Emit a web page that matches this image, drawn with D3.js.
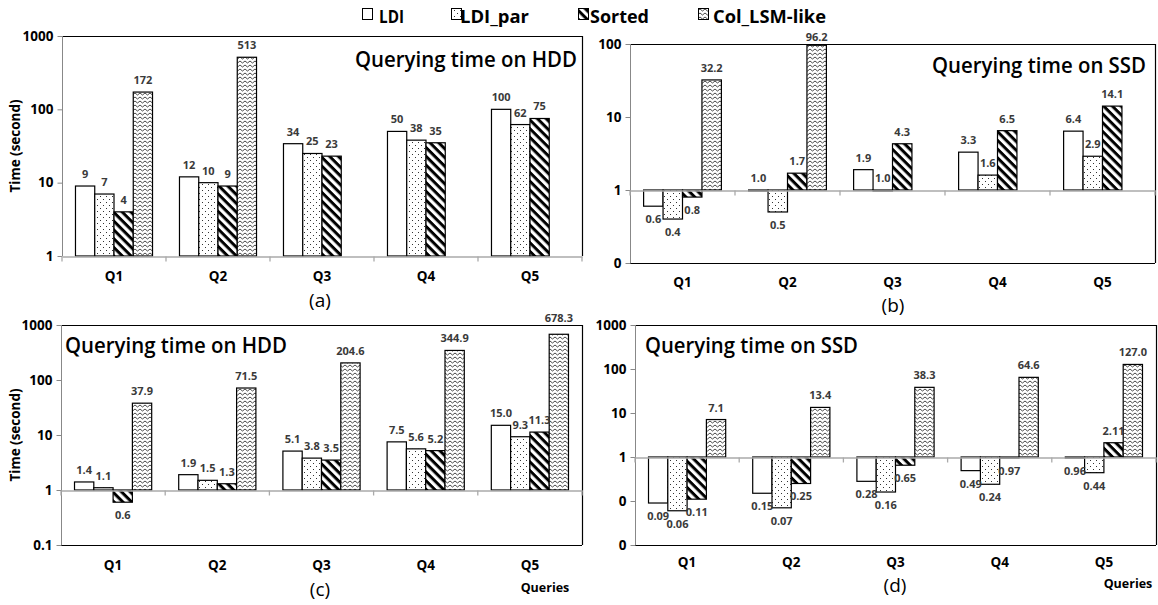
<!DOCTYPE html>
<html>
<head>
<meta charset="utf-8">
<script src="https://cdn.jsdelivr.net/npm/d3@7"></script>
<style>
  html, body { margin: 0; padding: 0; background: #fff; }
  svg { display: block; }
  text { font-family: "Open Sans", "DejaVu Sans", sans-serif; }
</style>
</head>
<body>
<svg id="chart" width="1158" height="605"></svg>
<script>
// ---------------- DATA ----------------
const categories = ["Q1", "Q2", "Q3", "Q4", "Q5"];
const seriesNames = ["LDI", "LDI_par", "Sorted", "Col_LSM-like"];

// (a) Querying time on HDD
const a_LDI    = [9, 12, 34, 50, 100];
const a_LDIpar = [7, 10, 25, 38, 62];
const a_Sorted = [4, 9, 23, 35, 75];
const a_Col    = [172, 513, null, null, null];

// (b) Querying time on SSD
const b_LDI    = [0.6, 1.0, 1.9, 3.3, 6.4];
const b_LDIpar = [0.4, 0.5, 1.0, 1.6, 2.9];
const b_Sorted = [0.8, 1.7, 4.3, 6.5, 14.1];
const b_Col    = [32.2, 96.2, null, null, null];

// (c) Querying time on HDD
const c_LDI    = [1.4, 1.9, 5.1, 7.5, 15.0];
const c_LDIpar = [1.1, 1.5, 3.8, 5.6, 9.3];
const c_Sorted = [0.6, 1.3, 3.5, 5.2, 11.3];
const c_Col    = [37.9, 71.5, 204.6, 344.9, 678.3];

// (d) Querying time on SSD
const d_LDI    = [0.09, 0.15, 0.28, 0.49, 0.96];
const d_LDIpar = [0.06, 0.07, 0.16, 0.24, 0.44];
const d_Sorted = [0.11, 0.25, 0.65, 0.97, 2.11];
const d_Col    = [7.1, 13.4, 38.3, 64.6, 127.0];

// axis ticks and their labels
const a_ticks = [1, 10, 100, 1000];
const a_tickLabels = ["1", "10", "100", "1000"];
const b_ticks = [0.1, 1, 10, 100];
const b_tickLabels = ["0", "1", "10", "100"];
const c_ticks = [0.1, 1, 10, 100, 1000];
const c_tickLabels = ["0.1", "1", "10", "100", "1000"];
const d_ticks = [0.01, 0.1, 1, 10, 100, 1000];
const d_tickLabels = ["0", "0", "1", "10", "100", "1000"];

// ---------------- DRAW ----------------
const svg = d3.select("#chart");
const defs = svg.append("defs");

// patterns
const pDots = defs.append("pattern").attr("id", "pat-dots")
  .attr("patternUnits", "userSpaceOnUse").attr("width", 6).attr("height", 6);
pDots.append("rect").attr("width", 6).attr("height", 6).attr("fill", "#fff");
pDots.append("rect").attr("x", 1).attr("y", 1).attr("width", 1).attr("height", 1).attr("fill", "#333");
pDots.append("rect").attr("x", 4).attr("y", 4).attr("width", 1).attr("height", 1).attr("fill", "#333");

const pStripe = defs.append("pattern").attr("id", "pat-stripe")
  .attr("patternUnits", "userSpaceOnUse").attr("width", 6.2).attr("height", 6.2)
  .attr("patternTransform", "rotate(45)");
pStripe.append("rect").attr("width", 6.2).attr("height", 6.2).attr("fill", "#fff");
pStripe.append("rect").attr("x", 0).attr("y", 0).attr("width", 6.2).attr("height", 3).attr("fill", "#000");

const pZig = defs.append("pattern").attr("id", "pat-zig")
  .attr("patternUnits", "userSpaceOnUse").attr("width", 5).attr("height", 4);
pZig.append("rect").attr("width", 5).attr("height", 4).attr("fill", "#fff");
pZig.append("path").attr("d", "M-1.25,0 L0,1 L2.5,3 L5,1 L6.25,0")
  .attr("fill", "none").attr("stroke", "#333").attr("stroke-width", 0.9);

const fills = ["#fff", "url(#pat-dots)", "url(#pat-stripe)", "url(#pat-zig)"];

// legend
const legendX = [362, 451, 578, 698];
const legendTextX = [379, 460, 590, 713];
const legendTextW = [25, 69, 59, 113];
const legend = svg.append("g");
seriesNames.forEach((s, i) => {
  legend.append("rect").attr("x", legendX[i] + 0.5).attr("y", 8.5).attr("width", 10).attr("height", 11)
    .attr("fill", fills[i]).attr("stroke", "#000").attr("stroke-width", 1);
  legend.append("text").attr("x", legendTextX[i]).attr("y", 23)
    .attr("font-size", 18).attr("font-weight", 700).attr("fill", "#000")
    .attr("textLength", legendTextW[i]).attr("lengthAdjust", "spacingAndGlyphs").text(s);
});

const panels = [
  { x0: 62, x1: 582, y0: 36, y1: 256, domain: [1, 1000], ticks: a_ticks, tickLabels: a_tickLabels,
    data: [a_LDI, a_LDIpar, a_Sorted, a_Col], fmt: ["d", "d", "d", "d"],
    title: "Querying time on HDD", titleX: 355, titleY: 67, titleW: 222,
    catY: 281, sub: "(a)", subX: 320, subY: 307, ylabel: true, queries: false, bottomBox: false },
  { x0: 630, x1: 1155, y0: 44, y1: 263, domain: [0.1, 100], ticks: b_ticks, tickLabels: b_tickLabels,
    data: [b_LDI, b_LDIpar, b_Sorted, b_Col], fmt: [".1f", ".1f", ".1f", ".1f"],
    title: "Querying time on SSD", titleX: 932, titleY: 73, titleW: 214,
    catY: 287, sub: "(b)", subX: 893, subY: 312, ylabel: false, queries: false, bottomBox: true },
  { x0: 61, x1: 582, y0: 325, y1: 545, domain: [0.1, 1000], ticks: c_ticks, tickLabels: c_tickLabels,
    data: [c_LDI, c_LDIpar, c_Sorted, c_Col], fmt: [".1f", ".1f", ".1f", ".1f"],
    title: "Querying time on HDD", titleX: 65, titleY: 353, titleW: 222,
    catY: 570, sub: "(c)", subX: 320, subY: 596, ylabel: true, queries: true, qX: 545, qY: 592, bottomBox: true },
  { x0: 635, x1: 1156, y0: 325, y1: 545, domain: [0.01, 1000], ticks: d_ticks, tickLabels: d_tickLabels,
    data: [d_LDI, d_LDIpar, d_Sorted, d_Col], fmt: [".2f", ".2f", ".2f", ".1f"],
    title: "Querying time on SSD", titleX: 645, titleY: 353, titleW: 213,
    catY: 567, sub: "(d)", subX: 895, subY: 592, ylabel: false, queries: true, qX: 1128, qY: 588, bottomBox: true }
];

panels.forEach(p => {
  const g = svg.append("g");
  const x = d3.scaleBand().domain(categories).range([p.x0, p.x1]).padding(0);
  const xs = d3.scaleBand().domain(seriesNames).range([0, x.bandwidth()]).paddingInner(0).paddingOuter(0.7);
  const y = d3.scaleLog().domain(p.domain).range([p.y1, p.y0]);
  const base = y(1);

  // box
  g.append("line").attr("x1", p.x0).attr("x2", p.x1).attr("y1", p.y0 + 0.5).attr("y2", p.y0 + 0.5)
    .attr("stroke", "#000").attr("stroke-width", 1.2);
  g.append("line").attr("x1", p.x1 + 0.5).attr("x2", p.x1 + 0.5).attr("y1", p.y0).attr("y2", p.y1)
    .attr("stroke", "#000").attr("stroke-width", 1.2);
  if (p.bottomBox) {
    g.append("line").attr("x1", p.x0).attr("x2", p.x1).attr("y1", p.y1 + 0.5).attr("y2", p.y1 + 0.5)
      .attr("stroke", "#000").attr("stroke-width", 1.2);
  }

  // y axis
  const yAxis = d3.axisLeft(y).tickValues(p.ticks).tickSize(5)
    .tickFormat((d, i) => p.tickLabels[i]);
  const ya = g.append("g").attr("transform", `translate(${p.x0 + 0.5},0)`).call(yAxis);
  ya.select(".domain").attr("stroke", "#888").attr("d", `M-0,${p.y0}V${p.y1}`);
  ya.selectAll(".tick line").attr("stroke", "#888");
  ya.selectAll(".tick text").attr("font-size", 13.5).attr("font-weight", 700).attr("fill", "#000")
    .attr("font-family", "'Open Sans', sans-serif").attr("x", -9);

  // bars
  p.data.forEach((vals, si) => {
    const s = seriesNames[si];
    const rows = categories.map((c, ci) => ({ c, v: vals[ci] })).filter(d => d.v != null);
    g.selectAll(null).data(rows).enter().append("rect")
      .attr("x", d => x(d.c) + xs(s))
      .attr("y", d => Math.min(y(d.v), base))
      .attr("width", xs.bandwidth())
      .attr("height", d => Math.max(Math.abs(y(d.v) - base), 1))
      .attr("fill", fills[si]).attr("stroke", "#000").attr("stroke-width", 1.2);
  });

  // category axis at value 1
  const xAxis = d3.axisBottom(x).tickSize(0).tickFormat("");
  const xa = g.append("g").attr("transform", `translate(0,${base + 0.5})`).call(xAxis);
  xa.select(".domain").attr("stroke", "#aaa").attr("stroke-width", 1.3);
  const bounds = categories.map(c => x(c)).concat([p.x1]);
  xa.selectAll(null).data(bounds).enter().append("line")
    .attr("x1", d => d).attr("x2", d => d).attr("y1", 0).attr("y2", 5)
    .attr("stroke", "#aaa").attr("stroke-width", 1.3);

  // category labels
  g.selectAll(null).data(categories).enter().append("text")
    .attr("x", d => x(d) + x.bandwidth() / 2).attr("y", p.catY)
    .attr("text-anchor", "middle").attr("font-size", 13.5).attr("font-weight", 700).attr("fill", "#000")
    .text(d => d);

  // value labels
  p.data.forEach((vals, si) => {
    const s = seriesNames[si];
    const f = d3.format(p.fmt[si]);
    const rows = categories.map((c, ci) => ({ c, v: vals[ci] })).filter(d => d.v != null);
    g.selectAll(null).data(rows).enter().append("text")
      .attr("x", d => x(d.c) + xs(s) + xs.bandwidth() / 2)
      .attr("y", d => {
        if (d.v < 1) return y(d.v) + 17;
        let yy = y(d.v) - 8;
        if (yy < p.y0 + 10) yy = p.y0 - 3;
        return yy;
      })
      .attr("text-anchor", "middle").attr("font-size", 11).attr("font-weight", 700).attr("fill", "#3a3a3a")
      .text(d => f(d.v));
  });

  // title
  g.append("text").attr("x", p.titleX).attr("y", p.titleY)
    .attr("font-size", 21).attr("font-weight", 600).attr("fill", "#000")
    .attr("textLength", p.titleW).attr("lengthAdjust", "spacingAndGlyphs").text(p.title);

  // sub label
  g.append("text").attr("x", p.subX).attr("y", p.subY).attr("text-anchor", "middle")
    .attr("font-size", 19).attr("fill", "#000").text(p.sub);

  if (p.ylabel) {
    g.append("text").attr("transform", `translate(20,${(p.y0 + p.y1) / 2}) rotate(-90)`)
      .attr("text-anchor", "middle").attr("font-size", 14).attr("font-weight", 700).attr("fill", "#000")
      .attr("textLength", 93).attr("lengthAdjust", "spacingAndGlyphs")
      .text("Time (second)");
  }
  if (p.queries) {
    g.append("text").attr("x", p.qX).attr("y", p.qY).attr("text-anchor", "middle")
      .attr("font-size", 12.5).attr("font-weight", 700).attr("fill", "#000").text("Queries");
  }
});
</script>
</body>
</html>
